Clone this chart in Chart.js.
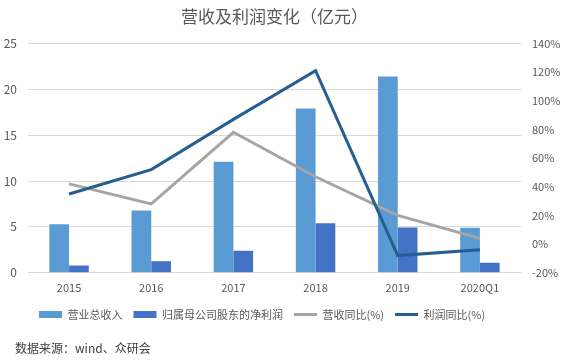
<!DOCTYPE html>
<html>
<head>
<meta charset="utf-8">
<script src="https://cdn.jsdelivr.net/npm/chart.js@4/dist/chart.umd.min.js"></script>
<style>
    html, body { margin: 0; padding: 0; background: #fff; }
    .wrap { position: relative; width: 563px; height: 363px; }
    .source {
        position: absolute; left: 15px; top: 339px;
        font: 12px "Noto Sans CJK SC", "Noto Sans", sans-serif; color: #404040;
    }
</style>
</head>
<body>
<div class="wrap">
    <canvas id="mainChart" width="563" height="363"></canvas>
    <div class="source">数据来源：wind、众研会</div>
</div>
<script>
// Data
const categories = ['2015', '2016', '2017', '2018', '2019', '2020Q1'];
const revenue = [5.3, 6.8, 12.1, 17.9, 21.4, 4.9];        // 营业总收入 (亿元)
const netProfit = [0.8, 1.25, 2.4, 5.4, 4.95, 1.1];       // 归属母公司股东的净利润 (亿元)
const revenueYoY = [42, 28, 78, 47, 20, 4];               // 营收同比 (%)
const profitYoY = [35, 52, 87, 121, -8, -4];              // 利润同比 (%)

const FONT = '"Noto Sans CJK SC", "Noto Sans", sans-serif';
const TEXT = '#595959';

new Chart(document.getElementById('mainChart'), {
    type: 'bar',
    data: {
        labels: categories,
        datasets: [
            {
                label: '营业总收入',
                data: revenue,
                backgroundColor: '#5B9BD5',
                borderWidth: 0,
                yAxisID: 'y',
                order: 2,
                pointStyle: 'rect'
            },
            {
                label: '归属母公司股东的净利润',
                data: netProfit,
                backgroundColor: '#4472C4',
                borderWidth: 0,
                yAxisID: 'y',
                order: 2,
                pointStyle: 'rect'
            },
            {
                type: 'line',
                label: '营收同比(%)',
                data: revenueYoY,
                borderColor: '#A5A5A5',
                backgroundColor: '#A5A5A5',
                borderWidth: 3,
                tension: 0,
                pointRadius: 0,
                fill: false,
                yAxisID: 'y1',
                order: 1,
                pointStyle: 'line'
            },
            {
                type: 'line',
                label: '利润同比(%)',
                data: profitYoY,
                borderColor: '#255E91',
                backgroundColor: '#255E91',
                borderWidth: 3,
                tension: 0,
                pointRadius: 0,
                fill: false,
                yAxisID: 'y1',
                order: 0,
                pointStyle: 'line'
            }
        ]
    },
    options: {
        responsive: false,
        animation: false,
        datasets: {
            bar: { categoryPercentage: 0.48, barPercentage: 1 }
        },
        layout: { padding: { left: 0, right: 0, top: 4, bottom: 33 } },
        plugins: {
            title: {
                display: true,
                fullSize: false,
                text: '营收及利润变化（亿元）',
                color: TEXT,
                font: { family: FONT, size: 17, weight: 'normal' },
                padding: { top: 2, bottom: 17 }
            },
            legend: {
                position: 'bottom',
                align: 'start',
                fullSize: false,
                labels: {
                    usePointStyle: true,
                    pointStyleWidth: 23,
                    boxHeight: 7,
                    padding: 11,
                    color: TEXT,
                    font: { family: FONT, size: 11 },
                    sort: (a, b) => a.datasetIndex - b.datasetIndex
                }
            },
            tooltip: { enabled: false }
        },
        scales: {
            x: {
                grid: { display: false },
                border: { display: false },
                afterFit: scale => { scale.height += 4; },
                ticks: { color: TEXT, font: { family: FONT, size: 11 }, padding: 0 }
            },
            y: {
                position: 'left',
                min: 0,
                max: 25,
                afterFit: scale => { scale.width = 28; },
                ticks: { stepSize: 5, color: TEXT, font: { family: FONT, size: 12 }, padding: 11 },
                grid: { color: '#D9D9D9', drawTicks: false },
                border: { display: false }
            },
            y1: {
                position: 'right',
                min: -20,
                max: 140,
                afterFit: scale => { scale.width = 42; },
                ticks: {
                    stepSize: 20,
                    color: TEXT,
                    font: { family: FONT, size: 11 },
                    padding: 11,
                    callback: v => v + '%'
                },
                grid: { display: false, drawTicks: false },
                border: { display: false }
            }
        }
    }
});
</script>
</body>
</html>
